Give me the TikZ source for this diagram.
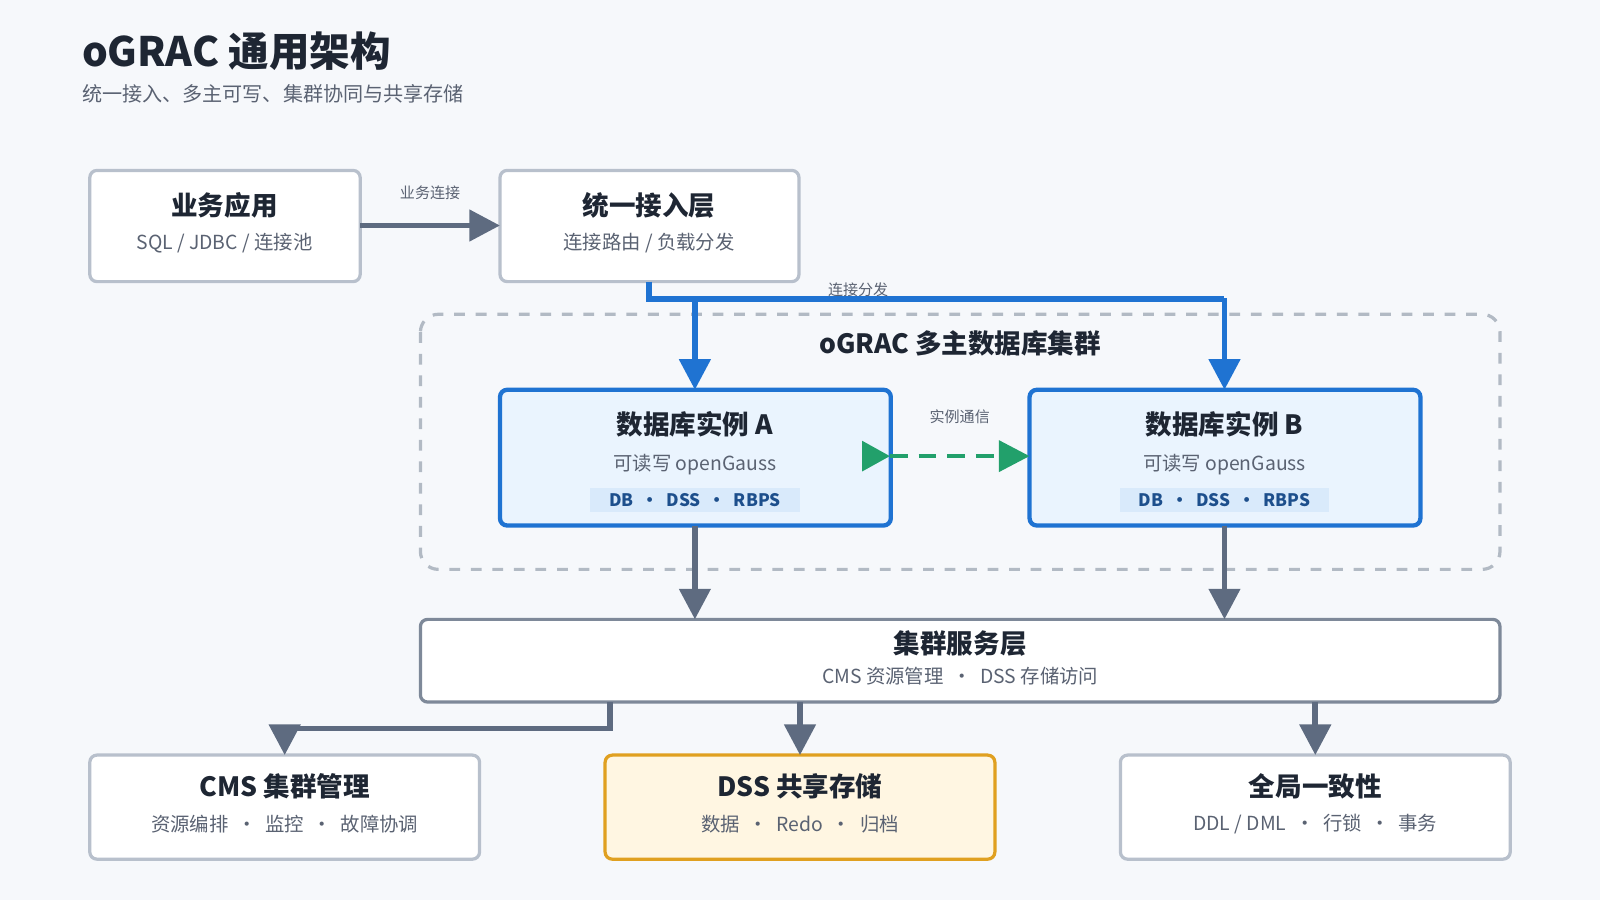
\documentclass[tikz,border=0pt]{standalone}
\usepackage{fontspec}
\setmainfont{Noto Sans CJK SC}
\usetikzlibrary{arrows.meta}
\definecolor{mybg}{HTML}{F6F8FB}
\definecolor{myink}{HTML}{1E2633}
\definecolor{mygray}{HTML}{5A6272}
\definecolor{myline}{HTML}{B8C0CC}
\definecolor{myblue}{HTML}{1F73D2}
\definecolor{mybluefill}{HTML}{EAF4FE}
\definecolor{mybadge}{HTML}{D9EAFB}
\definecolor{mybadgetext}{HTML}{1D4F8C}
\definecolor{myslate}{HTML}{5E6B80}
\definecolor{mygreen}{HTML}{22A06B}
\definecolor{myorange}{HTML}{E0A020}
\definecolor{myyellow}{HTML}{FFF6E2}
\tikzset{
  box/.style={draw=myline, line width=0.9pt, fill=white, rounded corners=2pt},
  inst/.style={draw=myblue, line width=1.2pt, fill=mybluefill, rounded corners=2pt},
  head/.style={font=\bfseries\fontsize{7.4}{8}\selectfont, text=myink},
  sub/.style={font=\fontsize{5.4}{6}\selectfont, text=mygray},
  tag/.style={font=\fontsize{4.2}{5}\selectfont, text=mygray},
  flow/.style={line width=1.6pt, -{Triangle[length=0.3cm,width=0.3cm]}},
}
\begin{document}
\begin{tikzpicture}[x=0.01cm, y=-0.01cm]
\useasboundingbox[fill=mybg] (0,0) rectangle (1568,882);
% titles
\node[anchor=west, font=\bfseries\fontsize{11.3}{12}\selectfont, text=myink] (title) at (68,50) {oGRAC 通用架构};
\node[anchor=west, font=\fontsize{5.6}{6}\selectfont, text=mygray] (subtitle) at (68,92) {统一接入、多主可写、集群协同与共享存储};
% cluster frame
\draw[myline!90!gray, line width=0.9pt, dashed, rounded corners=5pt] (412,308) rectangle (1470,558);
\node[head] (clustertitle) at (941,337) {oGRAC 多主数据库集群};
% top boxes
\draw[box] (88,167) rectangle (353,276);
\node[head] at (220,201) {业务应用};
\node[sub] at (220,238) {SQL / JDBC / 连接池};
\draw[box] (490,167) rectangle (783,276);
\node[head] at (636,201) {统一接入层};
\node[sub] at (636,238) {连接路由 / 负载分发};
\coordinate (appE) at (353,221);
\coordinate (gwW) at (490,221);
\coordinate (gwS) at (636,276);
% instances
\foreach \nm/\x/\lbl in {A/681/A, B/1200/B}
{
  \draw[inst] (\x-191,382) rectangle (\x+192,515);
  \node[head] at (\x,416) {数据库实例 \lbl};
  \node[sub] at (\x,455) {可读写 openGauss};
  \node[fill=mybadge, minimum width=2.05cm, minimum height=0.24cm, inner sep=0pt,
        font=\bfseries\fontsize{4.8}{5}\selectfont, text=mybadgetext] at (\x,490) {DB\ \ •\ \ DSS\ \ •\ \ RBPS};
  \coordinate (inst\nm N) at (\x,382);
  \coordinate (inst\nm S) at (\x,515);
  \coordinate (svc\nm) at (\x,607);
}
\coordinate (instAE) at (872,447);
\coordinate (instBW) at (1009,447);
% service layer
\draw[box, draw=myslate!80] (412,607) rectangle (1470,688);
\node[head] at (941,631) {集群服务层};
\node[sub] at (941,663) {CMS 资源管理\ \ •\ \ DSS 存储访问};
% bottom boxes
\draw[box] (88,740) rectangle (470,842);
\node[head] at (279,771) {CMS 集群管理};
\node[sub] at (279,808) {资源编排\ \ •\ \ 监控\ \ •\ \ 故障协调};
\draw[box, draw=myorange, fill=myyellow] (593,740) rectangle (975,842);
\node[head] at (784,771) {DSS 共享存储};
\node[sub] at (784,808) {数据\ \ •\ \ Redo\ \ •\ \ 归档};
\draw[box] (1098,740) rectangle (1480,842);
\node[head] at (1289,771) {全局一致性};
\node[sub] at (1289,808) {DDL / DML\ \ •\ \ 行锁\ \ •\ \ 事务};
% connectors
\draw[flow, myslate] (appE) -- (gwW) node[midway, above=3pt, tag] {业务连接};
\draw[myblue, line width=1.6pt] (gwS) -- (636,293) -- (1200,293);
\draw[flow, myblue] (681,293) -- (instAN);
\draw[flow, myblue] (1200,292.2) -- (instBN);
\node[tag] at (841,284) {连接分发};
\draw[mygreen, line width=1.3pt, dash pattern=on 5pt off 3pt, -{Triangle[length=0.3cm,width=0.3cm]}] (instAE) -- (instBW) node[midway, above=5pt, tag] {实例通信};
\fill[mygreen] (845,432) -- (872,447) -- (845,462) -- cycle;
\draw[flow, myslate] (instAS) -- (svcA);
\draw[flow, myslate] (instBS) -- (svcB);
\draw[flow, myslate] (598,688) -- (598,714) -- (279,714) -- (279,740);
\draw[flow, myslate] (784,688) -- (784,740);
\draw[flow, myslate] (1289,688) -- (1289,740);
\end{tikzpicture}
\end{document}
